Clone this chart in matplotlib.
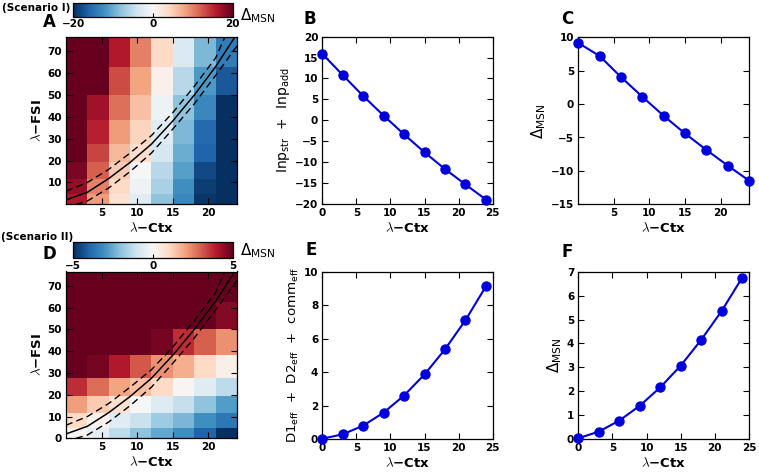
import numpy as np
import matplotlib
matplotlib.use("Agg")
import matplotlib.pyplot as plt

# ---------------- data ----------------
ctx_points = [0, 3, 6, 9, 12, 15, 18, 21, 24]
inp_sum = [15.9, 10.8, 5.8, 1.1, -3.4, -7.7, -11.7, -15.4, -19.0]
delta_s1 = [9.15, 7.2, 4.05, 1.1, -1.75, -4.4, -6.85, -9.2, -11.45]
eff_sum = [0.02, 0.28, 0.8, 1.58, 2.6, 3.86, 5.36, 7.1, 9.12]
delta_s2 = [0.03, 0.31, 0.77, 1.39, 2.16, 3.07, 4.15, 5.36, 6.75]

ctx_edges = [0, 3, 6, 9, 12, 15, 18, 21, 24]
fsi_edges = [0, 4.6, 11.5, 19.2, 27.6, 38.4, 50, 62.8, 76.6]

# rows from bottom (low FSI) to top (high FSI)
heat_s1 = [
    [16, 8.5, 3, -2.5, -8, -13, -19.5, -21],
    [17.5, 10, 4, -1, -6.5, -12.5, -19, -21],
    [19, 12, 5, 0, -5.5, -11, -18, -21],
    [21, 13.5, 6.5, 3.5, -3.5, -10, -16, -20],
    [21, 15.5, 8.5, 4.5, -2.5, -9, -15.5, -20],
    [22, 17, 11, 6, -1, -8, -13, -20],
    [22, 20, 13, 8, 1, -5.5, -11.5, -17],
    [22, 22, 16, 10, 4, -3, -9, -14],
]
heat_s2 = [
    [0.1, -0.5, -1.3, -2.0, -2.6, -3.1, -4.0, -5.0],
    [1.0, 0.2, -0.6, -1.1, -1.8, -2.3, -3.1, -3.6],
    [2.1, 1.3, 0.8, 0.0, -0.7, -1.2, -2.0, -2.8],
    [3.7, 2.8, 2.0, 1.5, 1.0, 0.1, -0.6, -1.3],
    [6, 4.8, 4.0, 3.1, 2.3, 1.8, 1.0, 0.3],
    [6, 6, 6, 6, 4.8, 3.7, 3.0, 2.3],
    [6, 6, 6, 6, 6, 6, 6, 4.6],
    [6, 6, 6, 6, 6, 6, 6, 6],
]

curve_ctx = [0, 3, 6, 9, 12, 15, 18, 21, 23.7]
curve_fsi = [2, 5.5, 11.8, 19.2, 27.6, 38.2, 50, 63, 76.6]
upper_ctx = [0, 3, 6, 9, 12, 15, 18, 21, 22.3]
upper_fsi = [6.0, 10, 16, 23.5, 31.5, 42, 54, 67, 76.6]
lower_ctx = [1.4, 3, 6, 9, 12, 15, 18, 21, 24]
lower_fsi = [0, 1.5, 7.5, 15, 23.5, 34.5, 46, 59, 72.5]

# ---------------- figure ----------------
W, H = 759, 473
fig = plt.figure(figsize=(W / 100, H / 100), dpi=100)

def box(l, t, r, b):
    return [l / W, 1 - b / H, (r - l) / W, (b - t) / H]

TICK = 7.5
LAB = 9.5

def style(ax):
    ax.tick_params(direction='in', top=True, right=True, length=4, width=0.8,
                   labelsize=TICK, pad=3)
    for lab in ax.get_xticklabels() + ax.get_yticklabels():
        lab.set_fontweight('bold')
    for s in ax.spines.values():
        s.set_linewidth(0.9)

def xlab(ax):
    ax.set_xlabel(r'$\lambda$−Ctx', fontsize=LAB, fontweight='bold',
                  math_fontfamily='cm', labelpad=2)

def heat(pos, cpos, data, vlim, cticks, yticks):
    ax = fig.add_axes(box(*pos))
    m = ax.pcolormesh(ctx_edges, fsi_edges, np.array(data), cmap='RdBu_r',
                      vmin=-vlim, vmax=vlim, shading='flat')
    ax.plot(curve_ctx, curve_fsi, color='k', lw=1.1)
    ax.plot(upper_ctx, upper_fsi, color='k', lw=1.0, ls=(0, (5, 3)))
    ax.plot(lower_ctx, lower_fsi, color='k', lw=1.0, ls=(0, (5, 3)))
    ax.set_xlim(0, 24)
    ax.set_ylim(0, 76.6)
    ax.set_xticks([5, 10, 15, 20])
    ax.set_yticks(yticks)
    style(ax)
    xlab(ax)
    ax.set_ylabel(r'$\lambda$−FSI', fontsize=LAB, fontweight='bold',
                  math_fontfamily='cm', labelpad=2)
    cax = fig.add_axes(box(*cpos))
    cb = fig.colorbar(m, cax=cax, orientation='horizontal', ticks=cticks)
    cax.tick_params(direction='in', length=3, labelsize=TICK, pad=2)
    for lab in cax.get_xticklabels():
        lab.set_fontweight('bold')
    cb.outline.set_linewidth(0.9)
    return ax

heat((66, 37, 237, 204.3), (73.3, 2.7, 232.7, 16.7), heat_s1, 20,
     [-20, 0, 20], [10, 20, 30, 40, 50, 60, 70])
heat((66, 271.5, 237, 438.3), (73.3, 242.3, 232.7, 258.3), heat_s2, 5,
     [-5, 0, 5], [0, 10, 20, 30, 40, 50, 60, 70])

def line(pos, y, xlim, xticks, ylim, yticks, ylabel, yls):
    ax = fig.add_axes(box(*pos))
    ax.plot(ctx_points, y, color='#0000dd', lw=1.5, marker='o', ms=6.5,
            mec='#0000dd', clip_on=False, zorder=3)
    ax.set_xlim(*xlim)
    ax.set_ylim(*ylim)
    ax.set_xticks(xticks)
    ax.set_yticks(yticks)
    style(ax)
    xlab(ax)
    ax.set_ylabel(ylabel, fontsize=yls, labelpad=2)
    return ax

line((322.3, 36.7, 492.7, 203.7), inp_sum, (0, 25), range(0, 26, 5),
     (-20, 20), range(-20, 21, 5),
     r'Inp$_\mathrm{str}$  +  Inp$_\mathrm{add}$', 10)
line((578.3, 37.3, 749, 204.3), delta_s1, (0, 24), [5, 10, 15, 20],
     (-15, 10), range(-15, 11, 5), r'$\Delta_\mathrm{MSN}$', 11)
line((322.3, 271.7, 492.7, 439), eff_sum, (0, 25), range(0, 26, 5),
     (0, 10), range(0, 11, 2),
     r'D1$_\mathrm{eff}$  +  D2$_\mathrm{eff}$  +  comm$_\mathrm{eff}$', 9.6)
line((578.3, 271.7, 749, 439), delta_s2, (0, 25), range(0, 26, 5),
     (0, 7), range(0, 8), r'$\Delta_\mathrm{MSN}$', 11)

# texts
def ftext(x, y, s, **kw):
    fig.text(x / W, 1 - y / H, s, **kw)

for (x, y, s) in [(49, 22, 'A'), (49, 254, 'D'), (310, 19, 'B'),
                  (567, 19, 'C'), (311, 250, 'E'), (567, 252, 'F')]:
    ftext(x, y, s, fontsize=12, fontweight='bold', ha='center', va='center')

ftext(36, 8, '(Scenario I)', fontsize=7.5, fontweight='bold', ha='center', va='center')
ftext(37, 237, '(Scenario II)', fontsize=7.5, fontweight='bold', ha='center', va='center')
ftext(240, 16, r'$\Delta_\mathrm{MSN}$', fontsize=11, ha='left', va='center')
ftext(240, 251, r'$\Delta_\mathrm{MSN}$', fontsize=11, ha='left', va='center')

fig.savefig('out.png', dpi=100)
